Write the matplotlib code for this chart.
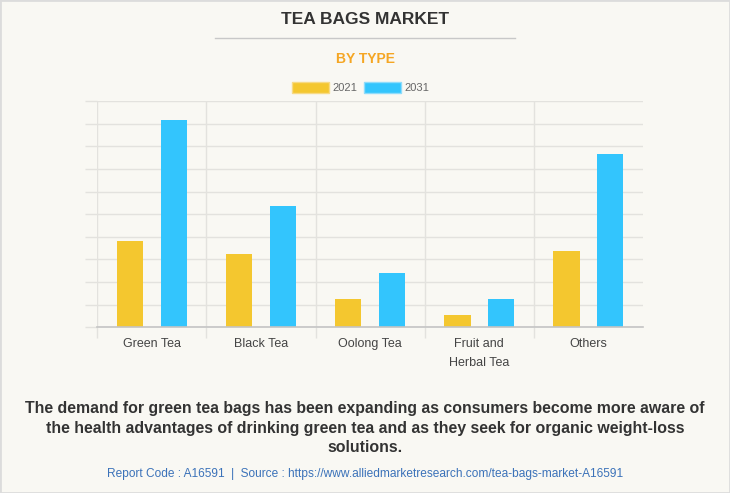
import matplotlib.pyplot as plt
import numpy as np
from matplotlib.patches import Rectangle, Patch

plt.rcParams['font.family'] = ['Liberation Sans', 'DejaVu Sans']

categories = ['Green Tea', 'Black Tea', 'Oolong Tea', 'Fruit and\nHerbal Tea', 'Others']
# values, in gridline units (axis has no labels)
y2021 = [3.81, 3.23, 1.25, 0.56, 3.37]
y2031 = [9.17, 5.36, 2.40, 1.25, 7.64]
years = ['2021', '2031']

bg = '#f9f8f3'
c2021 = '#f4c72f'
c2031 = '#33c5fd'
grid_c = '#e3e2de'

fig = plt.figure(figsize=(7.3, 4.93), dpi=100, facecolor=bg)
fig.patches.append(Rectangle((0, 0), 1, 1, transform=fig.transFigure,
                             facecolor='none', edgecolor='#dcdcdc', linewidth=2))

ax = fig.add_axes([0.1333, 0.3361, 0.7475, 0.459])
ax.set_facecolor(bg)

x = np.arange(len(categories))
w = 0.24
ax.bar(x - 0.2, y2021, w, color=c2021, zorder=3)
ax.bar(x + 0.2, y2031, w, color=c2031, zorder=3)

ax.set_xlim(-0.5, len(categories) - 0.5)
ax.set_ylim(0, 10)
ax.set_yticks(np.arange(0, 11, 1))
ax.set_yticklabels([])
ax.tick_params(axis='y', length=9, color=grid_c, width=1)
ax.grid(axis='y', color=grid_c, linewidth=1, zorder=0)

ax.set_xticks(x)
ax.set_xticklabels(categories, fontsize=9, color='#444444', linespacing=1.7, va='top')
ax.tick_params(axis='x', which='major', length=0, pad=8)
ax.set_xticks(np.arange(-0.5, len(categories) - 0.5, 1), minor=True)
ax.tick_params(axis='x', which='minor', length=8, color=grid_c, width=1)
ax.grid(axis='x', which='minor', color=grid_c, linewidth=1, zorder=0)

for s in ['top', 'right', 'left']:
    ax.spines[s].set_visible(False)
ax.spines['bottom'].set_color('#c4c4c4')
ax.spines['bottom'].set_linewidth(1.2)
ax.spines['bottom'].set_zorder(4)

fig.text(0.5, 1 - 20 / 493, 'TEA BAGS MARKET', ha='center', va='center',
         fontsize=12.5, fontweight='bold', color='#333333')
fig.add_artist(plt.Line2D([215 / 730, 515 / 730], [1 - 37.5 / 493] * 2,
                          color='#c8c8c8', linewidth=1))
fig.text(0.5, 1 - 59 / 493, 'BY TYPE', ha='center', va='center',
         fontsize=10, fontweight='bold', color='#f5a623')

handles = [Patch(facecolor=c2021, edgecolor='#f7da85'),
           Patch(facecolor=c2031, edgecolor='#8fdcfb')]
leg = fig.legend(handles, years, loc='center', bbox_to_anchor=(0.494, 1 - 87.5 / 493),
                 ncol=2, frameon=False, fontsize=8, handlelength=3.35, handleheight=1.15,
                 handletextpad=0.3, columnspacing=0.6)
for t in leg.get_texts():
    t.set_color('#666666')

fig.text(0.5, 1 - 428 / 493,
         'The demand for green tea bags has been expanding as consumers become more aware of\n'
         'the health advantages of drinking green tea and as they seek for organic weight-loss\n'
         'solutions.',
         ha='center', va='center', fontsize=11.4, fontweight='bold', color='#333333',
         linespacing=1.38)
fig.text(0.5, 1 - 474 / 493,
         'Report Code : A16591  |  Source : https://www.alliedmarketresearch.com/tea-bags-market-A16591',
         ha='center', va='center', fontsize=8.6, color='#3b72b9')

fig.savefig('out.png', dpi=100, facecolor=bg)
